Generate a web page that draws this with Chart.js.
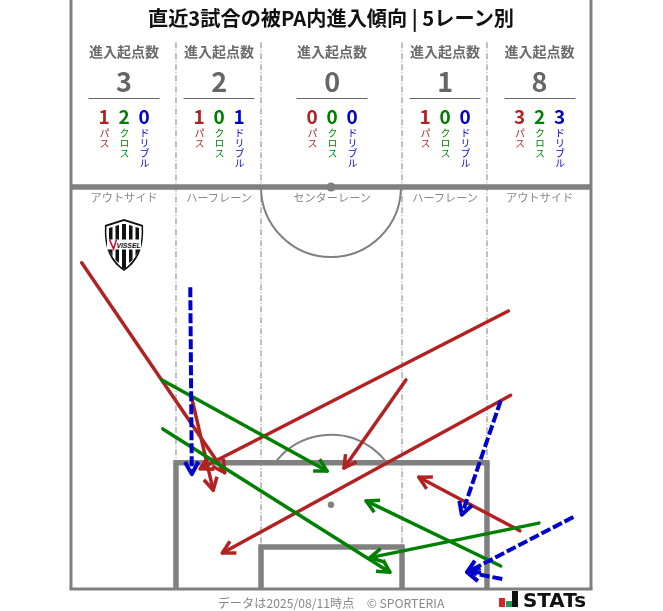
<!DOCTYPE html>
<html lang="ja">
<head>
<meta charset="UTF-8">
<title>直近3試合の被PA内進入傾向 | 5レーン別</title>
<script src="https://cdn.jsdelivr.net/npm/chart.js"></script>
<style>
    html, body { margin: 0; padding: 0; background: #fff; overflow: hidden; }
    body { font-family: "Noto Sans CJK JP", "Noto Sans", sans-serif; }
    #wrap { position: relative; width: 663px; height: 611px; }
    #pitch { position: absolute; left: 0; top: 0; }
    .txt { position: absolute; white-space: nowrap; transform: translateX(-50%); line-height: 1; }
    #title { left: 331px; top: 8px; font-size: 20.2px; font-weight: 700; color: #111; }
    .head { top: 44px; font-size: 14px; font-weight: 700; color: #6b6b6b; }
    .total { top: 67px; font-size: 27px; font-weight: 700; color: #666; }
    .rule { position: absolute; top: 98px; width: 71px; height: 1px; background: #666; transform: translateX(-50%); }
    .count { top: 106px; font-size: 19px; font-weight: 700; }
    .kind { position: absolute; top: 128px; font-size: 10px; line-height: 1; writing-mode: vertical-rl; transform: translateX(-50%); white-space: nowrap; }
    .lane { top: 192px; font-size: 11.2px; color: #888; }
    #foot { left: 331px; top: 597px; font-size: 12.2px; color: #888; }
    #logo { position: absolute; left: 103px; top: 218px; }
    #stats { position: absolute; left: 498px; top: 590px; }
</style>
</head>
<body>
<div id="wrap">
    <canvas id="pitch" width="663" height="611"></canvas>
    <div id="title" class="txt">直近3試合の被PA内進入傾向 | 5レーン別</div>
    <div id="labels"></div>
    <div id="foot" class="txt">データは2025/08/11時点　© SPORTERIA</div>

    <svg id="logo" width="42" height="54" viewBox="0 0 42 54">
        <path d="M21 1 L40 7 C41 24 38 42 21 53 C4 42 1 24 2 7 Z" fill="#111"/>
        <path d="M21 3 L38.5 8.5 C39.5 24 36 40 21 51 C6 40 2.5 24 3.5 8.5 Z" fill="#fff"/>
        <g fill="#111">
            <path d="M6 10 L9.5 9 V38 L6 32 Z"/>
            <path d="M12.5 8 L16 7 V45 L12.5 42 Z"/>
            <path d="M19 6 L23 6 V50 L21 51 L19 50 Z"/>
            <path d="M26 7 L29.5 8 V42 L26 45 Z"/>
            <path d="M32.5 9 L36 10 V32 L32.5 38 Z"/>
        </g>
        <rect x="4" y="21.5" width="34" height="10" fill="#fff"/>
        <path d="M6.5 21.5 L10.5 31 L13.5 21.5" fill="none" stroke="#c8102e" stroke-width="1.6"/>
        <text x="25.5" y="29.5" font-family="Liberation Sans" font-size="6.8" font-weight="700" font-style="italic" text-anchor="middle" fill="#111">VISSEL</text>
    </svg>

    <svg id="stats" width="92" height="20" viewBox="0 0 92 20">
        <rect x="1" y="8" width="6" height="9" fill="#d7232e"/>
        <rect x="8" y="11" width="6" height="6" fill="#1a9e50"/>
        <rect x="14" y="1" width="6" height="16" fill="#111"/>
        <text x="25" y="17" font-family="DejaVu Sans" font-size="19" font-weight="700" textLength="63" lengthAdjust="spacingAndGlyphs" fill="#111">STATs</text>
    </svg>
</div>

<script>
    // lanes, left to right
    const laneNames = ['アウトサイド', 'ハーフレーン', 'センターレーン', 'ハーフレーン', 'アウトサイド'];
    const laneTotals = [3, 2, 0, 1, 8];
    const lanePass = [1, 1, 0, 1, 3];
    const laneCross = [2, 0, 0, 0, 2];
    const laneDribble = [0, 1, 0, 0, 3];
    const kindNames = ['パス', 'クロス', 'ドリブル'];

    // entries in metres: x across the pitch, y from the goal line
    const passStartX = [1.4, 15.8, 57.2, 43.8, 57.5, 58.7];
    const passStartY = [42.6, 24.9, 36.3, 27.3, 25.3, 7.6];
    const passEndX = [20.1, 18.6, 16.9, 35.7, 19.8, 45.5];
    const passEndY = [15.2, 12.9, 15.7, 15.8, 4.7, 14.6];

    const crossStartX = [11.9, 12.0, 61.2, 56.2];
    const crossStartY = [27.3, 20.9, 8.6, 3.0];
    const crossEndX = [33.5, 41.7, 39.1, 38.6];
    const crossEndY = [15.4, 2.2, 4.1, 11.5];

    const dribbleStartX = [15.6, 56.2, 65.7, 56.4];
    const dribbleStartY = [39.4, 24.6, 9.4, 1.3];
    const dribbleEndX = [15.8, 51.1, 51.8, 51.8];
    const dribbleEndY = [15.0, 9.7, 2.2, 2.2];

    const RED = '#b22222', GREEN = '#008000', BLUE = '#0000cd', LINE = '#808080';

    function arrows(sx, sy, ex, ey, color, dash, order, width) {
        return sx.map((x, i) => ({
            data: [{ x: x, y: sy[i] }, { x: ex[i], y: ey[i] }],
            borderColor: color,
            borderWidth: width,
            borderDash: dash,
            borderCapStyle: dash.length ? 'butt' : 'round',
            pointRadius: 0,
            showLine: true,
            order: order,
            arrowHead: true
        }));
    }

    // open chevron on the last point of each arrow
    const arrowHeads = {
        id: 'arrowHeads',
        afterDatasetDraw(chart, args) {
            const ds = chart.data.datasets[args.index];
            if (!ds.arrowHead) return;
            const a = args.meta.data[0], b = args.meta.data[1];
            const ang = Math.atan2(b.y - a.y, b.x - a.x);
            const ctx = chart.ctx;
            ctx.save();
            ctx.strokeStyle = ds.borderColor;
            ctx.lineWidth = ds.borderWidth;
            ctx.lineJoin = 'round';
            ctx.lineCap = 'butt';
            ctx.beginPath();
            ctx.moveTo(b.x - 14 * Math.cos(ang - 0.5), b.y - 14 * Math.sin(ang - 0.5));
            ctx.lineTo(b.x, b.y);
            ctx.lineTo(b.x - 14 * Math.cos(ang + 0.5), b.y - 14 * Math.sin(ang + 0.5));
            ctx.stroke();
            ctx.restore();
        }
    };

    // half pitch markings, drawn under the arrows
    const pitchLines = {
        id: 'pitchLines',
        beforeDatasetsDraw(chart) {
            const ctx = chart.ctx;
            const X = v => chart.scales.x.getPixelForValue(v);
            const Y = v => chart.scales.y.getPixelForValue(v);
            const seg = (x1, y1, x2, y2, w) => {
                ctx.lineWidth = w;
                ctx.beginPath();
                ctx.moveTo(X(x1), Y(y1));
                ctx.lineTo(X(x2), Y(y2));
                ctx.stroke();
            };
            const paL = 13.73, paR = 54.4, gaL = 24.85, gaR = 43.29;
            const r = X(9.15) - X(0);
            ctx.save();
            ctx.strokeStyle = LINE;

            // lane separators
            ctx.setLineDash([6, 2, 1, 2]);
            seg(paL, 71.4, paL, 16.5, 1);
            seg(gaL, 71.4, gaL, 5.5, 1);
            seg(gaR, 71.4, gaR, 5.5, 1);
            seg(paR, 71.4, paR, 16.5, 1);
            ctx.setLineDash([]);

            // circles
            ctx.lineWidth = 2;
            ctx.beginPath();
            ctx.arc(X(34), Y(52.5), r, 0, Math.PI);
            ctx.stroke();
            const cut = Math.asin((Y(11) - Y(16.5)) / r);
            ctx.beginPath();
            ctx.arc(X(34), Y(11), r, Math.PI + cut, -cut);
            ctx.stroke();

            // outer frame, halfway line, boxes
            seg(0, 76.92, 0, 0, 3);
            seg(68, 76.92, 68, 0, 3);
            seg(-0.2, 0, 68.2, 0, 3);
            seg(0, 52.5, 68, 52.5, 5.5);
            seg(paL, 0, paL, 16.5, 5.5);
            seg(paR, 0, paR, 16.5, 5.5);
            seg(paL - 0.35, 16.5, paR + 0.35, 16.5, 5.5);
            seg(gaL, 0, gaL, 5.5, 5.5);
            seg(gaR, 0, gaR, 5.5, 5.5);
            seg(gaL - 0.35, 5.5, gaR + 0.35, 5.5, 5.5);

            // spots
            ctx.fillStyle = LINE;
            ctx.beginPath();
            ctx.arc(X(34), Y(52.5), 4.5, 0, Math.PI * 2);
            ctx.fill();
            ctx.beginPath();
            ctx.arc(X(34), Y(11), 3.2, 0, Math.PI * 2);
            ctx.fill();
            ctx.restore();
        }
    };

    const chart = new Chart(document.getElementById('pitch'), {
        type: 'scatter',
        data: {
            datasets: [
                ...arrows(passStartX, passStartY, passEndX, passEndY, RED, [], 3, 3.5),
                ...arrows(crossStartX, crossStartY, crossEndX, crossEndY, GREEN, [], 2, 3.5),
                ...arrows(dribbleStartX, dribbleStartY, dribbleEndX, dribbleEndY, BLUE, [10, 3], 1, 4)
            ]
        },
        options: {
            responsive: false,
            animation: false,
            events: [],
            layout: { padding: 0 },
            plugins: { legend: { display: false }, tooltip: { enabled: false }, title: { display: false } },
            scales: {
                x: { type: 'linear', display: false, min: -9.285, max: 77.42 },
                y: { type: 'linear', display: false, min: -2.873, max: 76.92 }
            }
        },
        plugins: [pitchLines, arrowHeads]
    });

    // header blocks sit on the lane centres of the x scale
    const laneEdges = [0, 13.73, 24.85, 43.29, 54.4, 68];
    const labels = document.getElementById('labels');
    function addText(cls, text, left, color) {
        const el = document.createElement('div');
        el.className = cls;
        el.textContent = text;
        el.style.left = left + 'px';
        if (color) el.style.color = color;
        labels.appendChild(el);
    }
    laneNames.forEach((name, i) => {
        const cx = chart.scales.x.getPixelForValue((laneEdges[i] + laneEdges[i + 1]) / 2) + 0.6;
        addText('txt head', '進入起点数', cx);
        addText('txt total', laneTotals[i], cx);
        addText('rule', '', cx);
        [lanePass[i], laneCross[i], laneDribble[i]].forEach((v, k) => {
            const col = [RED, GREEN, BLUE][k];
            addText('txt count', v, cx + (k - 1) * 20, col);
            addText('kind', kindNames[k], cx + (k - 1) * 20, col);
        });
        addText('txt lane', name, cx);
    });
</script>
</body>
</html>
